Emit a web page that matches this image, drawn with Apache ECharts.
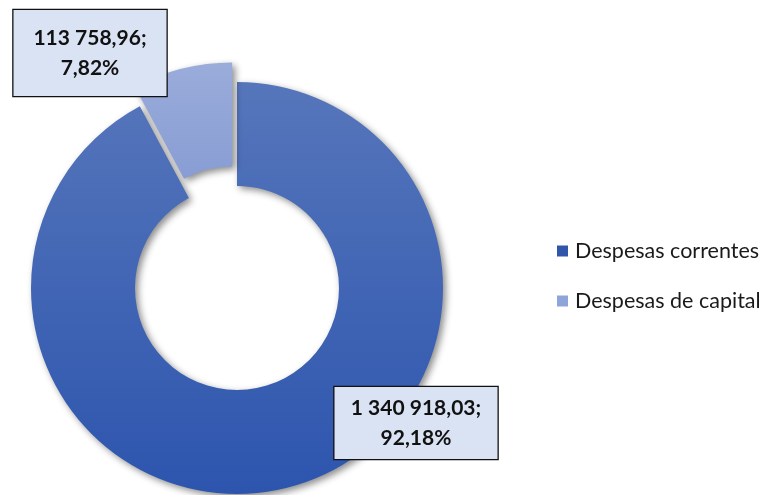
<!DOCTYPE html>
<html><head><meta charset="utf-8">
<script src="https://cdn.jsdelivr.net/npm/echarts@6/dist/echarts.min.js"></script>
<style>html,body{margin:0;padding:0;background:#fff}#c{width:763px;height:495px}</style>
</head><body><div id="c"></div>
<script>
const categories = ['Despesas correntes', 'Despesas de capital'];
const values = [1340918.03, 113758.96];
const percentLabels = ['92,18%', '7,82%'];

function fmt(v){
  const parts = v.toFixed(2).split('.');
  const int = parts[0].replace(/\B(?=(\d{3})+(?!\d))/g, ' ');
  return int + ',' + parts[1];
}
const grads = [
  new echarts.graphic.LinearGradient(0,0,0,1,[{offset:0,color:'#5676bb'},{offset:1,color:'#2d55ae'}]),
  new echarts.graphic.LinearGradient(0,0,0,1,[{offset:0,color:'#9aacda'},{offset:1,color:'#889dd4'}])
];
const legendColors = ['#2f56aa', '#8fa4d8'];
const labelPos = [{x:416, y:423}, {x:90, y:53}];
const labelSize = [{width:163, height:72}, {width:153, height:86}];

// explode offset of the capital slice, along its bisector
const cx = 237, cy = 288, explode = 20;
const capShareAngle = values[1] / (values[0] + values[1]) * 2 * Math.PI;
const bis = Math.PI / 2 + capShareAngle / 2; // measured from +x axis, counter-clockwise
const exCenter = [cx + explode * Math.cos(bis), cy - explode * Math.sin(bis)];

const baseLabel = {
  show:true, position:'inside',
  formatter:p=> fmt(p.value)+';\n'+percentLabels[p.dataIndex],
  fontFamily:'Lato, sans-serif', fontWeight:'bold', fontSize:21, color:'#111',
  lineHeight:30, align:'center',
  backgroundColor:'#dae3f3', borderColor:'#111', borderWidth:1.3,
  padding:[0,0,0,0]
};
const hidden = {itemStyle:{color:'rgba(0,0,0,0)', shadowColor:'rgba(0,0,0,0)'}, label:{show:false}, emphasis:{disabled:true}};

function makeSeries(visibleIdx, center){
  return {
    type:'pie', center:center, radius:[102,206],
    startAngle:90, clockwise:true, silent:true,
    avoidLabelOverlap:false, labelLine:{show:false},
    itemStyle:{shadowBlur:7, shadowColor:'rgba(0,0,0,0.45)', shadowOffsetX:3, shadowOffsetY:3},
    label: baseLabel,
    labelLayout: function(p){
      const pos = labelPos[p.dataIndex];
      return {x:pos.x, y:pos.y, align:'center', verticalAlign:'middle'};
    },
    data: categories.map((c,i)=> i===visibleIdx
      ? {name:c, value:values[i], itemStyle:{color:grads[i]}, label:labelSize[i]}
      : Object.assign({name:c, value:values[i]}, hidden))
  };
}

const chart = echarts.init(document.getElementById('c'), null, {renderer:'canvas'});
chart.setOption({
  animation:false,
  legend:{
    orient:'vertical', left:552, top:235, itemWidth:11, itemHeight:11, itemGap:28,
    icon:'rect', selectedMode:false,
    textStyle:{fontFamily:'Lato, sans-serif', fontSize:21.5, color:'#1a1a1a', padding:[0,0,0,2]},
    data: categories.map((c,i)=>({name:c, itemStyle:{color:legendColors[i]}}))
  },
  series:[ makeSeries(0, [cx, cy]), makeSeries(1, exCenter) ]
});
</script></body></html>
